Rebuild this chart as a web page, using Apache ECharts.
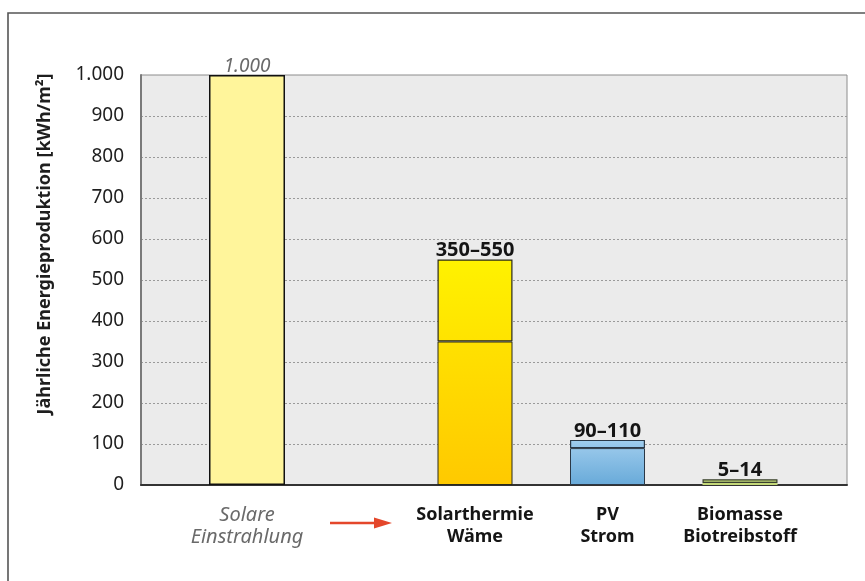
<!DOCTYPE html>
<html>
<head>
<meta charset="utf-8">
<script src="https://cdn.jsdelivr.net/npm/echarts@6/dist/echarts.min.js"></script>
<style>
  html, body { margin: 0; padding: 0; background: #ffffff; }
  #chart { width: 865px; height: 581px; }
</style>
</head>
<body>
<div id="chart"></div>
<script>
// Incoming solar radiation (reference bar)
const sourceCategory = ['Solare\nEinstrahlung'];
const sourceValue = [1000];

// Usable yearly yield per technology: lower and upper end of the range
const techCategories = ['Solarthermie\nWäme', 'PV\nStrom', 'Biomasse\nBiotreibstoff'];
const techLow = [350, 90, 5];
const techHigh = [550, 110, 14];

// Value axis
const yMin = 0;
const yMax = 1000;
const yStep = 100;

const FONT = '"Noto Sans", "Open Sans", sans-serif';

function grad(top, bottom) {
  return new echarts.graphic.LinearGradient(0, 0, 0, 1, [
    { offset: 0, color: top },
    { offset: 1, color: bottom }
  ]);
}

function thousands(v) {
  return String(v).replace(/\B(?=(\d{3})+(?!\d))/g, '.');
}

// fills for the lower and upper part of each range bar
const lowFill = [grad('#ffe100', '#ffc900'), grad('#97c7ea', '#68aad9'), '#c3d878'];
const highFill = [grad('#fff200', '#ffe300'), grad('#a2cfef', '#92c4e9'), '#c3d878'];
const barEdge = ['#2a2a1a', '#2b3846', '#3a4030'];

const chart = echarts.init(document.getElementById('chart'), null, { renderer: 'canvas' });

const plotTop = 75;
const plotBottom = 96;

chart.setOption({
  animation: false,
  backgroundColor: '#ffffff',
  textStyle: { fontFamily: FONT },
  grid: [
    { left: 141, right: 18, top: plotTop, bottom: plotBottom, show: true,
      backgroundColor: '#ebebeb', borderColor: '#8c8c8c', borderWidth: 1 },
    { left: 209, width: 76, top: plotTop, bottom: plotBottom },
    { left: 408.75, width: 397.5, top: plotTop, bottom: plotBottom }
  ],
  xAxis: [
    { gridIndex: 0, type: 'category', data: [''],
      axisLine: { show: true, lineStyle: { color: '#333333', width: 2 } },
      axisTick: { show: false }, axisLabel: { show: false }, splitLine: { show: false } },
    { gridIndex: 1, type: 'category', data: sourceCategory,
      axisLine: { show: false }, axisTick: { show: false },
      axisLabel: { margin: 19, fontSize: 20, lineHeight: 22, fontStyle: 'italic',
                   color: '#6a6a6a', fontFamily: FONT, interval: 0 } },
    { gridIndex: 2, type: 'category', data: techCategories,
      axisLine: { show: false }, axisTick: { show: false },
      axisLabel: { margin: 19, fontSize: 18, lineHeight: 22, fontWeight: 'bold',
                   color: '#151515', fontFamily: FONT, interval: 0 } }
  ],
  yAxis: [
    { gridIndex: 0, type: 'value', min: yMin, max: yMax, interval: yStep,
      axisLine: { show: true, lineStyle: { color: '#7a7a7a', width: 2 } },
      axisTick: { show: false },
      axisLabel: { margin: 17, fontSize: 19, color: '#1e1e1e', fontFamily: FONT,
                   formatter: v => thousands(v) },
      splitLine: { show: true, showMinLine: false, showMaxLine: false,
                   lineStyle: { color: '#9a9a9a', width: 1, type: [2, 2] } } },
    { gridIndex: 1, type: 'value', min: yMin, max: yMax, show: false, splitLine: { show: false } },
    { gridIndex: 2, type: 'value', min: yMin, max: yMax, show: false, splitLine: { show: false } }
  ],
  series: [
    {
      name: 'Einstrahlung', type: 'bar', xAxisIndex: 1, yAxisIndex: 1,
      barWidth: 76,
      data: sourceValue,
      itemStyle: { color: '#fff59b', borderColor: '#111111', borderWidth: 1.5 },
      label: { show: true, position: 'top', distance: -1, fontSize: 19, fontStyle: 'italic',
               color: '#6a6a6a', fontFamily: FONT, formatter: p => thousands(p.value) }
    },
    {
      name: 'untere Grenze', type: 'bar', stack: 'range', xAxisIndex: 2, yAxisIndex: 2,
      barWidth: 75,
      data: techLow.map((v, i) => ({
        value: v,
        itemStyle: { color: lowFill[i], borderColor: barEdge[i], borderWidth: i === 2 ? 0 : 1 }
      }))
    },
    {
      name: 'obere Grenze', type: 'bar', stack: 'range', xAxisIndex: 2, yAxisIndex: 2,
      barWidth: 75,
      data: techHigh.map((v, i) => ({
        value: v - techLow[i],
        itemStyle: { color: highFill[i], borderColor: barEdge[i], borderWidth: 1.2 }
      })),
      label: { show: true, position: 'top', distance: -1, fontSize: 20, fontWeight: 'bold',
               color: '#151515', fontFamily: FONT,
               formatter: p => techLow[p.dataIndex] + '\u2013' + techHigh[p.dataIndex] }
    }
  ],
  graphic: [
    { type: 'rect', silent: true, z: 100,
      shape: { x: 8, y: 13, width: 880, height: 600 },
      style: { fill: 'none', stroke: '#555555', lineWidth: 1.6 } },
    { type: 'text', silent: true, x: 45, y: 244, rotation: Math.PI / 2,
      style: { text: 'Jährliche Energieproduktion [kWh/m²]', fontSize: 18, fontWeight: 'bold',
               fontFamily: FONT, fill: '#1e1e1e', align: 'center', verticalAlign: 'middle' } },
    { type: 'line', silent: true,
      shape: { x1: 330, y1: 523, x2: 378, y2: 523 },
      style: { stroke: '#e4472b', lineWidth: 2.6 } },
    { type: 'polygon', silent: true,
      shape: { points: [[374, 517.5], [392, 523], [374, 528.5]] },
      style: { fill: '#e4472b' } }
  ]
});
</script>
</body>
</html>
